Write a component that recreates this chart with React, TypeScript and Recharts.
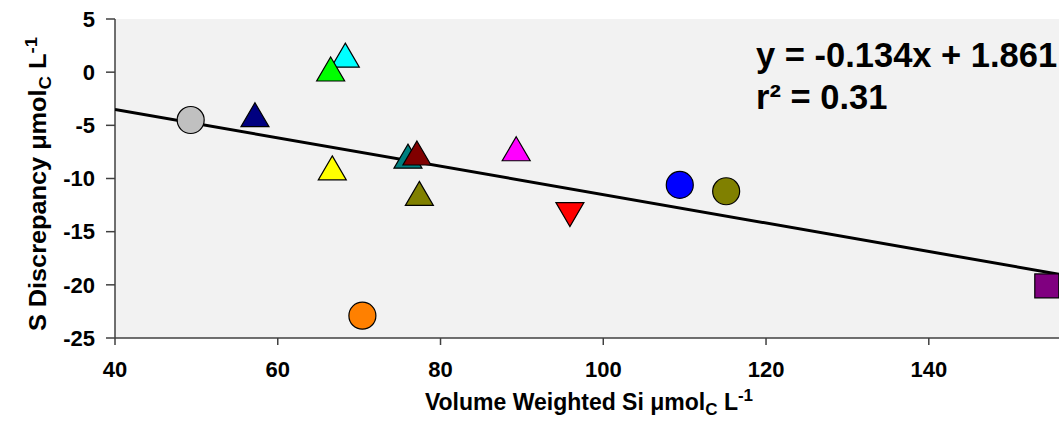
import React from "react";
import { ScatterChart, Scatter, XAxis, YAxis, CartesianGrid, Customized } from "recharts";

// Volume weighted Si vs S discrepancy, one marker per site
const siValues = [49.3, 57.2, 68.3, 66.5, 66.7, 76.0, 77.1, 77.4, 89.3, 95.9, 70.4, 109.4, 115.1, 154.5];
const discrepancyValues = [-4.5, -4.0, 1.6, 0.3, -9.0, -7.9, -7.6, -11.4, -7.2, -13.4, -22.9, -10.6, -11.2, -20.1];
const markerShapes = [
  "circle", "triangle", "triangle", "triangle", "triangle", "triangle", "triangle",
  "triangle", "triangle", "down", "circle", "circle", "circle", "square",
];
const markerColors = [
  "#C0C0C0", "#000080", "#00FFFF", "#00FF00", "#FFFF00", "#008080", "#800000",
  "#808000", "#FF00FF", "#FF0000", "#FF8000", "#0000FF", "#808000", "#800080",
];

// regression line end points (y = -0.134x + 1.861)
const trendX = [40, 156];
const trendY = [-3.5, -19.0];

const xTicks = [40, 60, 80, 100, 120, 140];
const yTicks = [-25, -20, -15, -10, -5, 0, 5];

const FONT = "'Liberation Sans', Arial, Helvetica, sans-serif";

const points = siValues.map((x, i) => ({ x, y: discrepancyValues[i] }));
const trendData = trendX.map((x, i) => ({ x, y: trendY[i] }));

function makeShape(kind: string, color: string) {
  return (props: any) => {
    const { cx, cy } = props;
    const stroke = "#000";
    const sw = 1.2;
    if (kind === "circle") {
      return <circle cx={cx} cy={cy} r={13.5} fill={color} stroke={stroke} strokeWidth={sw} />;
    }
    if (kind === "square") {
      return <rect x={cx - 12} y={cy - 12} width={24} height={24} fill={color} stroke={stroke} strokeWidth={sw} />;
    }
    if (kind === "down") {
      return (
        <polygon
          points={`${cx - 14},${cy - 12} ${cx + 14},${cy - 12} ${cx},${cy + 12}`}
          fill={color}
          stroke={stroke}
          strokeWidth={sw}
        />
      );
    }
    return (
      <polygon
        points={`${cx},${cy - 12} ${cx + 14},${cy + 12} ${cx - 14},${cy + 12}`}
        fill={color}
        stroke={stroke}
        strokeWidth={sw}
      />
    );
  };
}

function Annotations() {
  return (
    <g fontFamily={FONT} fontWeight="bold" fill="#000">
      <text x={756} y={67} fontSize={34.5}>
        y = -0.134x + 1.861
      </text>
      <text x={756} y={109} fontSize={34.5}>
        r² = 0.31
      </text>
      <text x={589} y={410} fontSize={23} textAnchor="middle">
        Volume Weighted Si μmol
        <tspan fontSize={17} dy={5}>C</tspan>
        <tspan dy={-5}> L</tspan>
        <tspan fontSize={17} dy={-9}>-1</tspan>
      </text>
      <text transform="translate(46,184) rotate(-90) scale(1.1,1)" fontSize={23} textAnchor="middle">
        S Discrepancy μmol
        <tspan fontSize={17} dy={5}>C</tspan>
        <tspan dy={-5}> L</tspan>
        <tspan fontSize={17} dy={-9}>-1</tspan>
      </text>
    </g>
  );
}

const tickStyle = { fill: "#000", fontSize: 22, fontWeight: "bold", fontFamily: FONT };

export default function App() {
  return (
    <div style={{ position: "fixed", left: 0, top: 0, width: 1059, height: 428, background: "#fff" }}>
      <ScatterChart width={1059} height={428} margin={{ top: 19, right: 0, bottom: 0, left: 0 }}>
        <CartesianGrid fill="#F2F2F2" stroke="none" horizontal={false} vertical={false} />
        <XAxis
          type="number"
          dataKey="x"
          domain={[40, 156]}
          ticks={xTicks}
          allowDataOverflow
          height={90}
          tickSize={7}
          tickMargin={16}
          axisLine={{ stroke: "#404040", strokeWidth: 1.5 }}
          tickLine={{ stroke: "#404040", strokeWidth: 1.5 }}
          tick={tickStyle}
        />
        <YAxis
          type="number"
          dataKey="y"
          domain={[-25, 5]}
          ticks={yTicks}
          allowDataOverflow
          width={115}
          tickSize={9}
          tickMargin={11}
          axisLine={{ stroke: "#404040", strokeWidth: 1.5 }}
          tickLine={{ stroke: "#404040", strokeWidth: 1.5 }}
          tick={tickStyle}
        />
        <Scatter
          data={trendData}
          line={{ stroke: "#000", strokeWidth: 3 }}
          shape={() => <g />}
          isAnimationActive={false}
        />
        {points.map((p, i) => (
          <Scatter
            key={i}
            data={[p]}
            shape={makeShape(markerShapes[i], markerColors[i])}
            isAnimationActive={false}
          />
        ))}
        <Customized component={Annotations} />
      </ScatterChart>
    </div>
  );
}
